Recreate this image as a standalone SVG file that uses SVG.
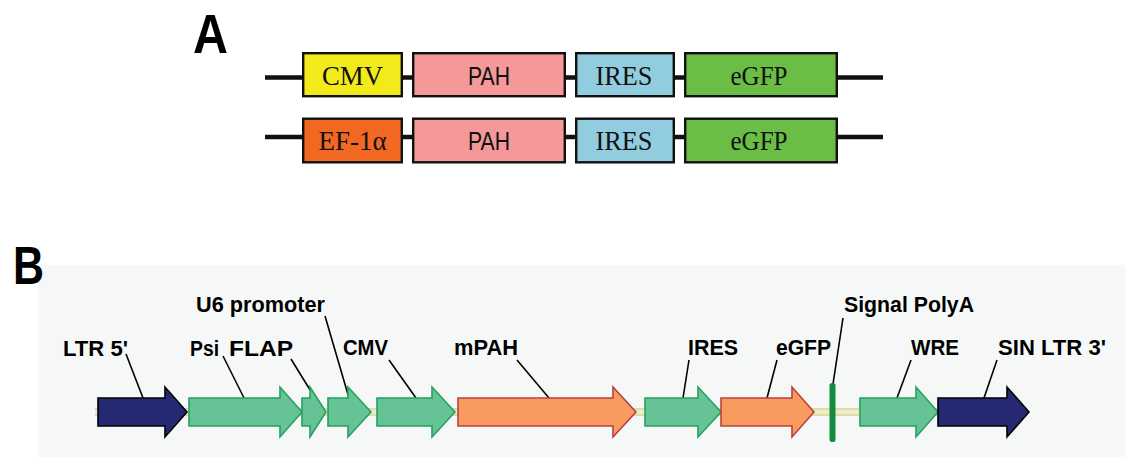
<svg xmlns="http://www.w3.org/2000/svg" width="1125" height="459" viewBox="0 0 1125 459">
<style>
.panel{font-family:"Liberation Sans",Arial,sans-serif;font-weight:bold;fill:#000}
.box{stroke:#111;stroke-width:2.4}
.serif{font-family:"Liberation Serif","Times New Roman",serif;font-size:27px;fill:#111;text-anchor:middle}
.sans{font-family:"Liberation Sans",Arial,sans-serif;font-size:25px;fill:#111;text-anchor:middle}
.bb{stroke:#111;stroke-width:4.5}
.lbl{font-family:"Liberation Sans",Arial,sans-serif;font-weight:bold;font-size:22px;fill:#000}
.lead{stroke:#000;stroke-width:1.6;fill:none}
.navy{fill:#252873;stroke:#000;stroke-width:1.6;stroke-linejoin:miter}
.green{fill:#66C395;stroke:#26A160;stroke-width:1.6}
.orange{fill:#F99A61;stroke:#B5433B;stroke-width:1.6}
</style>
<defs>
<linearGradient id="bbg" x1="0" y1="0" x2="0" y2="1">
<stop offset="0" stop-color="#D6D6A4"/>
<stop offset="0.5" stop-color="#F3F3D2"/>
<stop offset="1" stop-color="#D6D6A4"/>
</linearGradient>
</defs>

<!-- Panel B background -->
<rect x="38" y="265" width="1087" height="192" fill="#F6F8F8"/>

<!-- Panel labels -->
<text id="label-A" class="panel" x="193" y="53" font-size="56" textLength="35" lengthAdjust="spacingAndGlyphs">A</text>
<text id="label-B" class="panel" x="13" y="284" font-size="53" textLength="31" lengthAdjust="spacingAndGlyphs">B</text>

<g id="connectors">
  <line class="bb" x1="265" y1="77.5" x2="883" y2="77.5"/>
  <line class="bb" x1="265" y1="137" x2="883" y2="137"/>
  <rect x="95" y="408" width="910" height="8" fill="url(#bbg)"/>
  <line class="lead" x1="126" y1="354" x2="143" y2="398"/>
  <line class="lead" x1="223" y1="356" x2="244" y2="398"/>
  <line class="lead" x1="291" y1="359" x2="315" y2="398"/>
  <line class="lead" x1="325" y1="316" x2="349" y2="398"/>
  <line class="lead" x1="389" y1="360" x2="416" y2="398"/>
  <line class="lead" x1="517" y1="360" x2="549" y2="398"/>
  <line class="lead" x1="689" y1="360" x2="683" y2="398"/>
  <line class="lead" x1="777" y1="360" x2="767" y2="398"/>
  <line class="lead" x1="843" y1="318" x2="833" y2="384"/>
  <line class="lead" x1="911" y1="360" x2="897" y2="398"/>
  <line class="lead" x1="997" y1="360" x2="984" y2="398"/>
</g>

<!-- Panel A row 1 -->
<g id="a1-cmv"><rect class="box" x="303.2" y="53.2" width="98.6" height="43" fill="#F2EA1A"/><text class="serif" x="352.5" y="85" textLength="61" lengthAdjust="spacingAndGlyphs">CMV</text></g>
<g id="a1-pah"><rect class="box" x="413.2" y="53.2" width="151.6" height="43" fill="#F4989A"/><text class="sans" x="489" y="84.5" textLength="42" lengthAdjust="spacingAndGlyphs">PAH</text></g>
<g id="a1-ires"><rect class="box" x="576.2" y="53.2" width="97.6" height="43" fill="#92CDDF"/><text class="serif" x="624" y="85" textLength="57" lengthAdjust="spacingAndGlyphs">IRES</text></g>
<g id="a1-egfp"><rect class="box" x="685.2" y="53.2" width="151.6" height="43" fill="#6ABD45"/><text class="serif" x="759" y="85" textLength="57" lengthAdjust="spacingAndGlyphs">eGFP</text></g>

<!-- Panel A row 2 -->
<g id="a2-ef1a"><rect class="box" x="303.2" y="118.7" width="98.6" height="43.6" fill="#F26822"/><text class="serif" x="352.5" y="150" textLength="68" lengthAdjust="spacingAndGlyphs">EF-1α</text></g>
<g id="a2-pah"><rect class="box" x="413.2" y="118.7" width="151.6" height="43.6" fill="#F4989A"/><text class="sans" x="489" y="149.5" textLength="42" lengthAdjust="spacingAndGlyphs">PAH</text></g>
<g id="a2-ires"><rect class="box" x="576.2" y="118.7" width="97.6" height="43.6" fill="#92CDDF"/><text class="serif" x="624" y="150" textLength="57" lengthAdjust="spacingAndGlyphs">IRES</text></g>
<g id="a2-egfp"><rect class="box" x="685.2" y="118.7" width="151.6" height="43.6" fill="#6ABD45"/><text class="serif" x="759" y="150" textLength="57" lengthAdjust="spacingAndGlyphs">eGFP</text></g>

<!-- Panel B features -->
<g id="b-ltr5"><polygon class="navy" points="98,398 165,398 165,387 187,412 165,437 165,426 98,426"/><text class="lbl" x="63" y="356" textLength="65" lengthAdjust="spacingAndGlyphs">LTR 5'</text></g>
<g id="b-psi"><polygon class="green" points="189,398 280,398 280,387 302,412 280,437 280,426 189,426"/><text class="lbl" x="190" y="356" textLength="29" lengthAdjust="spacingAndGlyphs">Psi</text></g>
<g id="b-flap"><polygon class="green" points="302,398 310,398 310,387 326,412 310,437 310,426 302,426"/><text class="lbl" x="229" y="356" textLength="64" lengthAdjust="spacingAndGlyphs">FLAP</text></g>
<g id="b-u6"><polygon class="green" points="328,398 348,398 348,387 371,412 348,437 348,426 328,426"/><text class="lbl" x="196" y="312" textLength="129" lengthAdjust="spacingAndGlyphs">U6 promoter</text></g>
<g id="b-cmv"><polygon class="green" points="377,398 432,398 432,387 455,412 432,437 432,426 377,426"/><text class="lbl" x="343" y="355" textLength="45" lengthAdjust="spacingAndGlyphs">CMV</text></g>
<g id="b-mpah"><polygon class="orange" points="458,398 613,398 613,387 636,412 613,437 613,426 458,426"/><text class="lbl" x="454" y="355" textLength="64" lengthAdjust="spacingAndGlyphs">mPAH</text></g>
<g id="b-ires"><polygon class="green" points="645,398 698,398 698,387 721,412 698,437 698,426 645,426"/><text class="lbl" x="688" y="355" textLength="50" lengthAdjust="spacingAndGlyphs">IRES</text></g>
<g id="b-egfp"><polygon class="orange" points="721,398 792,398 792,387 814,412 792,437 792,426 721,426"/><text class="lbl" x="776" y="355" textLength="55" lengthAdjust="spacingAndGlyphs">eGFP</text></g>
<g id="b-polya"><rect x="829.5" y="383" width="6" height="59" rx="2.5" fill="#138A3E"/><text class="lbl" x="844" y="312" textLength="130" lengthAdjust="spacingAndGlyphs">Signal PolyA</text></g>
<g id="b-wre"><polygon class="green" points="860,398 916,398 916,387 938,412 916,437 916,426 860,426"/><text class="lbl" x="911" y="355" textLength="48" lengthAdjust="spacingAndGlyphs">WRE</text></g>
<g id="b-ltr3"><polygon class="navy" points="938,398 1007,398 1007,387 1029,412 1007,437 1007,426 938,426"/><text class="lbl" x="998" y="355" textLength="108" lengthAdjust="spacingAndGlyphs">SIN LTR 3'</text></g>
</svg>
